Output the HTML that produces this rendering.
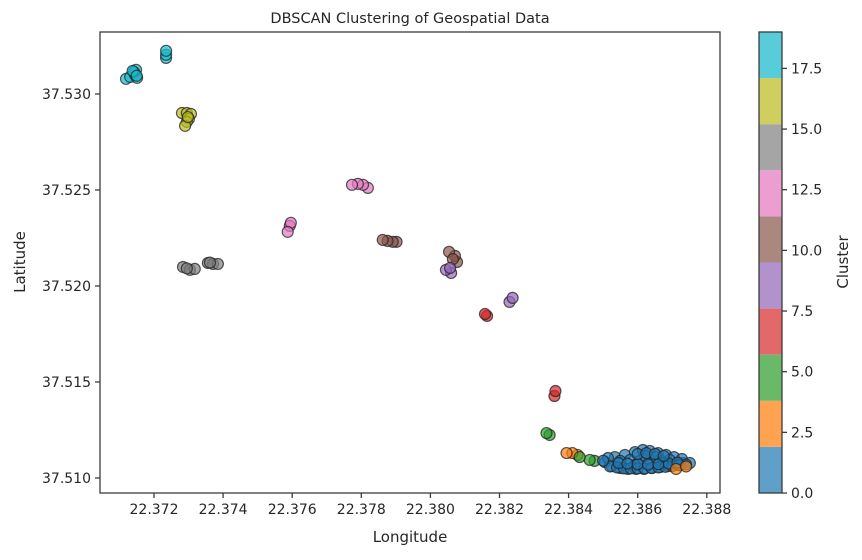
<!DOCTYPE html>
<html><head><meta charset="utf-8"><style>
body{margin:0;background:#fff;font-family:"DejaVu Sans","Liberation Sans",sans-serif;}
svg text{fill:#262626;}
</style></head><body>
<svg id="chart" width="862" height="556" xmlns="http://www.w3.org/2000/svg">
<rect width="862" height="556" fill="#fff"/>
<text x="410" y="23" font-size="14.5" text-anchor="middle">DBSCAN Clustering of Geospatial Data</text>
<g id="plot"></g>
<g id="xaxis"></g>
<g id="yaxis"></g>
<g id="cbar"></g>
<text x="410" y="542" font-size="15" text-anchor="middle">Longitude</text>
<text transform="translate(25,262) rotate(-90)" font-size="15" text-anchor="middle">Latitude</text>
<text transform="translate(848,262) rotate(-90)" font-size="15" text-anchor="middle">Cluster</text>
</svg>
<script>
const xTicks=[22.372,22.374,22.376,22.378,22.380,22.382,22.384,22.386,22.388];
const yTicks=[37.510,37.515,37.520,37.525,37.530];
const cbTicks=[0,2.5,5,7.5,10,12.5,15,17.5];
const cbColors=["#5fa0ca","#ffa352","#69b969","#e36869","#b192cc","#aa8880","#eb9ecf","#a5a5a5","#cfcf5f","#58ccd9"];
const pointColors=["#1f77b4","#ff7f0e","#2ca02c","#d62728","#9467bd","#8c564b","#e377c2","#7f7f7f","#bcbd22","#17becf"];
const clusterColor=[9,9,8,6,7,7,6,5,5,4,3,4,3,2,1,2,0,1];
const clusterLon=[
[22.37119,22.37131,22.37145,22.37151,22.37148,22.37142,22.37138,22.37150],
[22.37235,22.37235,22.37235],
[22.37281,22.37295,22.37307,22.37301,22.37295,22.37290,22.37298],
[22.37593,22.37596,22.37587],
[22.37284,22.37304,22.37318,22.37295],
[22.37356,22.37371,22.37385,22.37362],
[22.37819,22.37805,22.37790,22.37773],
[22.37902,22.37891,22.37876,22.37862],
[22.38077,22.38071,22.38054,22.38065],
[22.38060,22.38045,22.38057],
[22.38164,22.38158],
[22.38229,22.38238],
[22.38359,22.38362],
[22.38345,22.38336],
[22.38426,22.38411,22.38394],
[22.38475,22.38461,22.38432],
[22.38505,22.38525,22.38549,22.38572,22.38595,22.38618,22.38641,22.38664,22.38688,22.38711,22.38731,22.38534,22.38563,22.38592,22.38615,22.38635,22.38659,22.38682,22.38705,22.38728,22.38578,22.38606,22.38635,22.38664,22.38693,22.38722,22.38514,22.38549,22.38653,22.38621,22.38751,22.38592,22.38673,
 22.38520,22.38540,22.38560,22.38580,22.38600,22.38620,22.38640,22.38660,22.38680,22.38700,22.38720,22.38740,22.38545,22.38570,22.38600,22.38630,22.38660,22.38690,22.38715,22.38600,22.38625,22.38650,22.38675,22.38500],
[22.38711,22.38740]
];
const clusterLat=[
[37.53079,37.53089,37.53100,37.53084,37.53126,37.53115,37.53120,37.53095],
[37.53188,37.53204,37.53225],
[37.52901,37.52901,37.52896,37.52870,37.52855,37.52834,37.52880],
[37.52313,37.52329,37.52282],
[37.52099,37.52084,37.52089,37.52092],
[37.52120,37.52115,37.52115,37.52122],
[37.52511,37.52527,37.52532,37.52527],
[37.52230,37.52230,37.52235,37.52240],
[37.52125,37.52157,37.52178,37.52140],
[37.52068,37.52084,37.52094],
[37.51844,37.51854],
[37.51917,37.51938],
[37.51427,37.51453],
[37.51224,37.51234],
[37.51120,37.51130,37.51130],
[37.51089,37.51094,37.51109],
[37.51083,37.51062,37.51052,37.51047,37.51047,37.51047,37.51052,37.51057,37.51062,37.51073,37.51078,37.51109,37.51120,37.51135,37.51146,37.51141,37.51130,37.51120,37.51109,37.51099,37.51094,37.51089,37.51094,37.51094,37.51094,37.51068,37.51104,37.51089,37.51109,37.51115,37.51078,37.51068,37.51078,
 37.51060,37.51055,37.51050,37.51050,37.51050,37.51050,37.51052,37.51055,37.51058,37.51062,37.51066,37.51070,37.51078,37.51075,37.51072,37.51070,37.51072,37.51075,37.51080,37.51125,37.51130,37.51125,37.51115,37.51090],
[37.51047,37.51060]
];
const NS="http://www.w3.org/2000/svg";
const L=100,R=720,T=32,B=493;
function xs(v){return 154+(v-22.372)/0.002*69.1;}
function ys(v){return 478-(v-37.510)/0.005*96;}
function cs(v){return 493-v/19*461;}
function mk(t,a,p){const e=document.createElementNS(NS,t);for(const k in a)e.setAttribute(k,a[k]);p.appendChild(e);return e;}
const plot=document.getElementById('plot'),xa=document.getElementById('xaxis'),ya=document.getElementById('yaxis'),cb=document.getElementById('cbar');
clusterLon.forEach((lons,ci)=>{
  lons.forEach((lon,i)=>{
    const c=mk('circle',{cx:xs(lon),cy:ys(clusterLat[ci][i]),r:5.5,fill:pointColors[clusterColor[ci]],'fill-opacity':0.7,stroke:'#222','stroke-opacity':0.75,'stroke-width':1.2},plot);
    
    
  });
});
mk('rect',{x:L,y:T,width:R-L,height:B-T,fill:'none',stroke:'#3b3b3b','stroke-width':1.3},plot);
xTicks.forEach(v=>{const x=xs(v);
  mk('line',{x1:x,x2:x,y1:B,y2:B+5,stroke:'#3b3b3b','stroke-width':1.3},xa);
  const t=mk('text',{x:x,y:B+21,'font-size':14,'text-anchor':'middle'},xa);t.textContent=v.toFixed(3);
  
  });
yTicks.forEach(v=>{const y=ys(v);
  mk('line',{x1:L-5,x2:L,y1:y,y2:y,stroke:'#3b3b3b','stroke-width':1.3},ya);
  const t=mk('text',{x:L-9,y:y+5,'font-size':14,'text-anchor':'end'},ya);t.textContent=v.toFixed(3);
  
  });
cbColors.forEach((c,i)=>{const y0=cs(i*1.9),y1=cs((i+1)*1.9);
  const r=mk('rect',{x:759,y:y1,width:23,height:y0-y1,fill:c},cb);
  
  });
mk('rect',{x:759,y:T,width:23,height:B-T,fill:'none',stroke:'#3b3b3b','stroke-width':1.3},cb);
cbTicks.forEach(v=>{const y=cs(v);
  mk('line',{x1:782,x2:787,y1:y,y2:y,stroke:'#3b3b3b','stroke-width':1.3},cb);
  const t=mk('text',{x:791,y:y+5,'font-size':14},cb);t.textContent=v.toFixed(1);
  
  });
</script>
</body></html>
